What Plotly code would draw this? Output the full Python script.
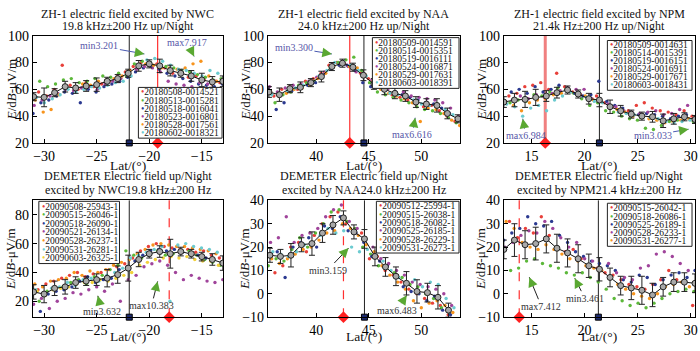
import math
import plotly.graph_objects as go

W, H = 700, 351
FONT = "Liberation Serif"
COLORS = ['#e8403a', '#5cb83a', '#2b3990', '#a0449b', '#f7941d', '#6ccbd0', '#f2d13a']

# ---------------- Panel 1: ZH-1 / NWC ----------------
p1_lat0, p1_step = -31.0, 0.75
p1_labels = ['20180508-0014521', '20180513-0015281', '20180518-0016041',
             '20180523-0016801', '20180528-0017561', '20180602-0018321']
p1_red = [53,58,55,60,78,63,60,65,62,64,66,70,73,77,80,78,79,76,72,73,69,70,67,64,65]
p1_green = [60,66,62,64,67,68,65,66,68,70,69,72,70,79,81,80,78,77,76,74,73,71,69,67,68]
p1_blue = [42,50,52,55,58,57,50,60,58,62,64,66,69,73,76,77,75,72,70,68,66,64,63,62,64]
p1_purple = [48,52,55,57,60,59,61,62,60,64,66,68,71,75,77,76,73,66,64,63,62,65,64,66,67]
p1_orange = [52,43,45,56,61,62,64,63,66,67,68,70,74,77,79,78,76,76,75,76,79,81,70,66,63]
p1_cyan = [54,50,53,56,60,58,60,62,61,63,65,66,70,78,82,83,81,78,75,74,72,70,74,72,69]
p1_mean_lat = [-31,-30,-29,-28,-27,-26,-25,-24,-23,-22,-21,-20,-19,-18,-17,-16,-15,-14,-13]
p1_mean = [54.5,54,57.5,62,61,62.5,63.5,66,68,72,77.5,79,77.5,74,72,70,67,65.5,66]
p1_err = [3,7,3,4,4,4,5,3,3,3,4,3,5,4,3,4,5,4,4]

# ---------------- Panel 2: ZH-1 / NAA ----------------
p2_lat0, p2_step = 35.5, 0.75
p2_labels = ['20180509-0014591', '20180514-0015351', '20180519-0016111',
             '20180524-0016871', '20180529-0017631', '20180603-0018391']
p2_red = [57,55,60,62,60,66,68,72,78,80,79,77,72,68,62,60,56,54,52,49,47,48,44,40,36]
p2_green = [55,50,56,58,63,65,66,70,76,80,82,84,74,65,58,56,54,52,50,47,45,44,42,39,35]
p2_blue = [60,45,50,59,62,63,65,71,75,78,78,74,65,62,66,61,58,56,54,52,50,49,46,42,38]
p2_purple = [62,58,61,63,64,66,69,73,79,79,77,73,70,67,64,60,58,58,55,54,53,52,50,46,40]
p2_orange = [58,56,57,60,61,63,68,72,77,80,77,76,71,66,60,57,55,53,50,36,46,45,42,37,33]
p2_cyan = [56,57,59,61,63,65,70,74,80,81,78,74,70,64,61,57,56,54,52,49,48,47,45,41,37]
p2_mean_lat = [35.5,36.5,37.5,38.5,39.5,40.5,41.5,42.5,43.5,44.5,45.5,46.5,47.5,48.5,49.5,50.5,51.5,52.5,53.5]
p2_mean = [58,56,60.5,61.5,65,69.5,77,79.5,76.5,70.5,64,60,57,55,50.5,49,48,42,38]
p2_err = [4,5,3,4,3,4,3,3,3,4,4,4,4,4,4,4,5,4,3]

# ---------------- Panel 3: ZH-1 / NPM ----------------
p3_lat0, p3_step = 12.4, 0.75
p3_labels = ['20180509-0014631', '20180514-0015391', '20180519-0016151',
             '20180524-0016911', '20180529-0017671', '20180603-0018431']
p3_red = [53,55,57,62,63,65,60,72,62,58,56,54,55,50,47,45,44,48,50,46,44,43,41,44,40]
p3_green = [48,50,52,51,56,55,58,61,60,57,53,48,50,44,43,40,38,37,31,30,33,36,37,39,36]
p3_blue = [52,58,60,57,62,58,60,63,61,57,55,56,66,51,48,46,43,41,42,41,40,38,40,41,38]
p3_purple = [50,52,55,53,56,54,57,59,61,60,60,53,52,49,47,44,43,42,43,44,41,42,45,48,39]
p3_orange = [51,48,44,50,52,53,56,57,59,57,55,52,51,47,45,43,40,39,38,37,35,36,37,38,35]
p3_cyan = [49,47,40,46,48,44,52,55,58,56,54,51,50,46,43,42,41,40,39,38,36,35,36,37,36]
p3_mean_lat = [12.4,13.4,14.4,15.4,16.4,17.4,18.4,19.4,20.4,21.4,22.4,23.4,24.4,25.4,26.4,27.4,28.4,29.4,30.4]
p3_mean = [50.5,52,52.5,54,55,57.5,59.5,56.5,53,52,47,44,41.5,40,39.5,36.5,38,39.5,37.5]
p3_err = [4,5,6,6,4,4,3,3,4,5,5,4,3,3,4,5,4,3,3]

# ---------------- Panel 4: DEMETER / NWC ----------------
p4_lat0, p4_step = -31.0, 0.75
p4_labels = ['20090508-25943-1', '20090515-26046-1', '20090518-26090-1', '20090521-26134-1',
             '20090528-26237-1', '20090531-26281-1', '20090603-26325-1']
p4_red = [30,28,32,34,36,38,40,37,39,40,42,44,46,50,55,58,60,58,57,56,56,54,55,52,50]
p4_green = [25,20,27,28,30,33,35,32,37,38,42,45,55,52,50,52,55,52,53,54,55,52,49,47,45]
p4_blue = [22,13,25,27,28,30,34,37,33,35,36,42,44,48,52,55,56,55,56,54,53,52,50,49,47]
p4_purple = [18,22,15,20,22,26,25,28,30,27,32,20,35,38,44,46,48,45,40,35,38,36,34,33,35]
p4_orange = [32,30,34,35,36,40,38,41,40,42,45,47,49,53,56,59,60,59,58,58,57,56,55,53,51]
p4_cyan = [28,26,29,30,33,31,35,36,34,38,40,43,50,52,54,56,58,20,59,60,58,57,56,54,52]
p4_yellow = [27,24,28,29,30,32,33,33,35,34,36,38,40,45,47,49,50,51,50,51,49,48,48,45,43]
p4_mean_lat = [-31,-30,-29,-28,-27,-26,-25,-24,-23,-22,-21,-20,-19,-18,-17,-16,-15,-14,-13]
p4_mean = [26.5,25,29,30,33,34,35,36,38.5,43,49,53,54.5,53,54.5,53,51,49,46.5]
p4_err = [5,6,5,5,4,3,4,6,6,9,5,3,4,10,3,3,3,4,5]

# ---------------- Panel 5: DEMETER / NAA ----------------
p5_lat0, p5_step = 35.6, 0.75
p5_labels = ['20090512-25994-1', '20090515-26038-1', '20090518-26082-1',
             '20090525-26185-1', '20090528-26229-1', '20090531-26273-1']
p5_red = [14,9,12,20,22,18,25,30,33,35,30,27,26,15,16,10,8,5,2,0,-2,-4,-5,-9]
p5_green = [12,15,14,19,24,20,26,30,35,36,31,28,20,17,12,11,9,7,4,3,0,-2,-6,-8]
p5_blue = [17,18,7,20,22,24,20,29,28,33,27,26,22,16,14,12,8,3,1,0,-3,-1,-7,-9]
p5_purple = [22,24,33,22,25,26,28,33,36,38,31,28,24,20,15,13,10,8,5,4,3,2,0,-5]
p5_orange = [15,13,15,17,19,20,23,26,27,30,28,25,21,18,12,8,5,2,-3,-6,-4,-3,-5,-8]
p5_cyan = [18,17,16,18,21,22,25,28,26,27,20,18,19,16,14,10,7,4,6,3,5,4,-2,-6]
p5_mean_lat = [35.6,36.6,37.6,38.6,39.6,40.6,41.6,42.6,43.6,44.6,45.6,46.6,47.6,48.6,49.6,50.6,51.6,52.6]
p5_mean = [16.5,16,16.5,21,21.5,26,29.5,32.5,26.5,23.5,16,11.5,7.5,4.5,1,0.5,-1.5,-7]
p5_err = [3,3,5,3,5,4,4,3,3,4,4,4,4,5,5,4,5,3]

# ---------------- Panel 6: DEMETER / NPM ----------------
p6_lat0, p6_step = 12.4, 0.75
p6_labels = ['20090515-26042-1', '20090518-26086-1', '20090525-26189-1',
             '20090528-26233-1', '20090531-26277-1']
p6_red = [30,31,24,28,26,33,25,20,18,19,15,12,11,9,8,6,4,3,2,4,6,10,6,5,-5]
p6_green = [7,10,11,14,15,13,12,11,9,8,9,7,5,2,-2,-3,-5,-4,-6,-4,-2,0,1,2,1]
p6_blue = [23,26,28,33,30,29,31,25,22,18,16,14,13,12,10,6,5,8,7,4,6,8,9,7,10]
p6_purple = [20,22,25,27,26,31,28,24,20,22,15,14,11,13,9,7,6,11,12,17,18,16,13,10,9]
p6_orange = [31,28,22,20,19,21,19,17,15,14,12,11,10,7,4,2,0,-1,-2,0,3,4,5,3,6]
p6_mean_lat = [12.4,13.4,14.4,15.4,16.4,17.4,18.4,19.4,20.4,21.4,22.4,23.4,24.4,25.4,26.4,27.4,28.4,29.4,30.4]
p6_mean = [19,23,21,21.5,23.5,19.5,17.5,15,12,10.5,7,3.5,2.5,1.5,-0.5,3,5,5,4.5]
p6_err = [4,7,6,7,6,6,6,6,5,5,4,4,5,6,5,4,4,4,4]

titles = [
    ("ZH-1 electric field excited by NWC", "19.8 kHz±200 Hz up/Night"),
    ("ZH-1 electric field excited by NAA", "24.0 kHz±200 Hz up/Night"),
    ("ZH-1 electric field excited by NPM", "21.4k Hz±200 Hz up/Night"),
    ("DEMETER Electric field up/Night", "excited by NWC19.8 kHz±200 Hz"),
    ("DEMETER Electric field up/Night", "excited by NAA24.0 kHz±200 Hz"),
    ("DEMETER Electric field up/Night", "excited by NPM21.4 kHz±200 Hz"),
]
station_lat = [-21.9, 44.55, 21.4, -21.9, 44.6, 21.3]
ref_lat = [-19.2, 43.2, 16.3, -18.1, 42.6, 13.85]
notes = [  # (text, head x, head y, ax px, ay px)
    [("min3.201", -20.46, 86.4, -45, -8), ("max7.917", -15.73, 84.5, -7, -14)],
    [("min3.300", 41.5, 86.4, -38, -6), ("max6.616", 49.43, 38.8, -3, 17)],
    [("max6.984", 14.18, 38.1, 3, 17), ("min3.033", 29.8, 30.2, -36, 6)],
    [("min3.632", -24.89, 23.8, 4, 16), ("max10.383", -19.2, 33.8, -6, 24)],
    [("min3.159", 43.09, 19.6, -21, 22), ("max6.483", 48.63, -0.6, -10, 15)],
    [("max7.412", 14.8, 7.1, 12, 29), ("min3.461", 19.08, 6.7, 10, 20)],
]

panels = [
    dict(lat0=p1_lat0, step=p1_step, labels=p1_labels,
         series=[p1_red, p1_green, p1_blue, p1_purple, p1_orange, p1_cyan],
         mlat=p1_mean_lat, mean=p1_mean, err=p1_err),
    dict(lat0=p2_lat0, step=p2_step, labels=p2_labels,
         series=[p2_red, p2_green, p2_blue, p2_purple, p2_orange, p2_cyan],
         mlat=p2_mean_lat, mean=p2_mean, err=p2_err),
    dict(lat0=p3_lat0, step=p3_step, labels=p3_labels,
         series=[p3_red, p3_green, p3_blue, p3_purple, p3_orange, p3_cyan],
         mlat=p3_mean_lat, mean=p3_mean, err=p3_err),
    dict(lat0=p4_lat0, step=p4_step, labels=p4_labels,
         series=[p4_red, p4_green, p4_blue, p4_purple, p4_orange, p4_cyan, p4_yellow],
         mlat=p4_mean_lat, mean=p4_mean, err=p4_err),
    dict(lat0=p5_lat0, step=p5_step, labels=p5_labels,
         series=[p5_red, p5_green, p5_blue, p5_purple, p5_orange, p5_cyan],
         mlat=p5_mean_lat, mean=p5_mean, err=p5_err),
    dict(lat0=p6_lat0, step=p6_step, labels=p6_labels,
         series=[p6_red, p6_green, p6_blue, p6_purple, p6_orange],
         mlat=p6_mean_lat, mean=p6_mean, err=p6_err),
]

# ---------------- layout geometry (pixels) ----------------
XPIX = [(33, 224), (269, 462), (506, 698)]
YPIX = [(30, 142), (202, 324)]
xranges = [[-31.07, -12.98], [35.4, 53.7], [12.4, 30.4]] * 2
yranges = [[20, 100]] * 3 + [[9, 90], [-10, 40], [-10, 40]]
xticks = [[-30, -25, -20, -15], [40, 45, 50], [15, 20, 25, 30]] * 2
yticks = [[20, 40, 60, 80, 100]] * 3 + [[20, 40, 60, 80], [-10, 0, 10, 20, 30, 40], [-10, 0, 10, 20, 30, 40]]
legend_box = [(139, 84, 223, 137), (374, 32, 461, 85), (610, 35, 695, 87),
              (39, 203, 120, 268), (378, 203, 461, 257), (610, 205, 695, 250)]


def px(x):
    return x / W


def py(y):
    return 1 - y / H


fig = go.Figure()
shapes, annots = [], []
layout = {}

for i, p in enumerate(panels):
    col, row = i % 3, i // 3
    n = i + 1
    xa = 'x' if n == 1 else f'x{n}'
    ya = 'y' if n == 1 else f'y{n}'
    x0p, x1p = XPIX[col]
    y0p, y1p = YPIX[row]
    axis_common = dict(showline=True, mirror=True, linecolor='black', linewidth=1,
                       ticks='inside', ticklen=4, tickcolor='black', showgrid=False,
                       zeroline=False, ticklabeloverflow='allow',
                       tickfont=dict(family=FONT, size=14, color='black'))
    layout[f'xaxis{n}'] = dict(domain=[px(x0p), px(x1p)], range=xranges[i], tickvals=xticks[i],
                               anchor=ya, **axis_common)
    layout[f'yaxis{n}'] = dict(domain=[py(y1p), py(y0p)], range=yranges[i], tickvals=yticks[i],
                               anchor=xa, **axis_common)

    # scatter clouds
    nser = len(p['series'])
    for k, vals in enumerate(p['series']):
        off = (k - (nser - 1) / 2) * 0.11
        xs = [p['lat0'] + p['step'] * j + off for j in range(len(vals))]
        fig.add_trace(go.Scatter(x=xs, y=vals, mode='markers', xaxis=xa, yaxis=ya,
                                 marker=dict(size=3.4, color=COLORS[k]), showlegend=False,
                                 hoverinfo='skip'))

    # vertical lines
    red_style = dict(color='#f08080', width=3) if i == 2 else dict(color='#ff3030', width=1.2)
    if i >= 3:
        red_style['dash'] = 'dash'
    shapes.append(dict(type='line', xref=xa, yref=f'{ya} domain', x0=ref_lat[i], x1=ref_lat[i],
                       y0=0, y1=1, line=red_style, layer='below'))
    shapes.append(dict(type='line', xref=xa, yref=f'{ya} domain', x0=station_lat[i], x1=station_lat[i],
                       y0=0, y1=1, line=dict(color='#222', width=1), layer='below'))

    # mean curve with error bars
    fig.add_trace(go.Scatter(x=p['mlat'], y=p['mean'], mode='lines+markers', xaxis=xa, yaxis=ya,
                             line=dict(color='#111', width=1),
                             marker=dict(symbol='circle', size=6, color='#a8a8a8',
                                         line=dict(color='#222', width=1)),
                             error_y=dict(type='data', array=p['err'], color='#222',
                                          thickness=1, width=3),
                             showlegend=False, hoverinfo='skip'))

    # bottom markers
    ymin = yranges[i][0]
    fig.add_trace(go.Scatter(x=[ref_lat[i]], y=[ymin], mode='markers', xaxis=xa, yaxis=ya,
                             marker=dict(symbol='diamond', size=9, color='#ff2020',
                                         line=dict(color='#ff2020', width=0)),
                             cliponaxis=False, showlegend=False, hoverinfo='skip'))
    fig.add_trace(go.Scatter(x=[station_lat[i]], y=[ymin], mode='markers', xaxis=xa, yaxis=ya,
                             marker=dict(symbol='square', size=6, color='#1c2a6e',
                                         line=dict(color='black', width=1)),
                             cliponaxis=False, showlegend=False, hoverinfo='skip'))

    # legend box
    bx0, by0, bx1, by1 = legend_box[i]
    shapes.append(dict(type='rect', xref='paper', yref='paper', x0=px(bx0), x1=px(bx1),
                       y0=py(by1), y1=py(by0), line=dict(color='#222', width=1),
                       fillcolor='white', layer='above'))
    nl = len(p['labels'])
    rowh = (by1 - by0 - 2) / nl
    for k, lab in enumerate(p['labels']):
        yy = by0 + 1 + rowh * (k + 0.5)
        annots.append(dict(xref='paper', yref='paper', x=px(bx0 + 2), y=py(yy),
                           xanchor='left', yanchor='middle', showarrow=False, borderpad=0,
                           text=f'<span style="color:{COLORS[k]}">•</span>{lab}',
                           font=dict(family=FONT, size=9.5, color='#111')))

    # titles
    cx = (x0p + x1p) / 2
    t1y, t2y = (7, 20) if row == 0 else (177, 191)
    for txt, yy in zip(titles[i], (t1y, t2y)):
        annots.append(dict(xref='paper', yref='paper', x=px(cx), y=py(yy), xanchor='center',
                           yanchor='middle', showarrow=False, text=txt, borderpad=0,
                           font=dict(family=FONT, size=12, color='#111')))
    # axis titles
    xty = 166 if row == 0 else 344
    annots.append(dict(xref='paper', yref='paper', x=px(cx), y=py(xty), xanchor='center',
                       yanchor='middle', showarrow=False, text='Lat/(°)', borderpad=0,
                       font=dict(family=FONT, size=13.5, color='#111')))
    ytx = [11, 246, 483][col]
    annots.append(dict(xref='paper', yref='paper', x=px(ytx), y=py((y0p + y1p) / 2),
                       xanchor='center', yanchor='middle', showarrow=False, textangle=-90,
                       text='<i>E</i>/d<i>B</i>-μV/m', borderpad=0,
                       font=dict(family=FONT, size=13, color='#111')))

    # min / max annotations with arrows
    line_col = '#4a5ab0' if row == 0 else '#222'
    txt_col = '#5656a8' if row == 0 else '#333'
    for txt, hx, hy, ax, ay in notes[i]:
        annots.append(dict(xref=xa, yref=ya, x=hx, y=hy, ax=ax, ay=ay, text=txt,
                           showarrow=True, arrowhead=0, arrowwidth=1, arrowcolor=line_col,
                           font=dict(family=FONT, size=10, color=txt_col)))
        L = math.hypot(ax, ay)
        annots.append(dict(xref=xa, yref=ya, x=hx, y=hy, ax=ax / L * 9, ay=ay / L * 9, text='',
                           showarrow=True, arrowhead=2, arrowsize=1.6, arrowwidth=1.2,
                           arrowcolor='#5aa832'))

fig.update_layout(width=W, height=H, margin=dict(l=0, r=0, t=0, b=0),
                  paper_bgcolor='white', plot_bgcolor='white', showlegend=False,
                  hovermode=False, shapes=shapes, annotations=annots, **layout)
fig.write_html("out.html", config={'displayModeBar': False, 'staticPlot': True},
               post_script="document.body.style.margin='0';document.body.style.overflow='hidden';")
